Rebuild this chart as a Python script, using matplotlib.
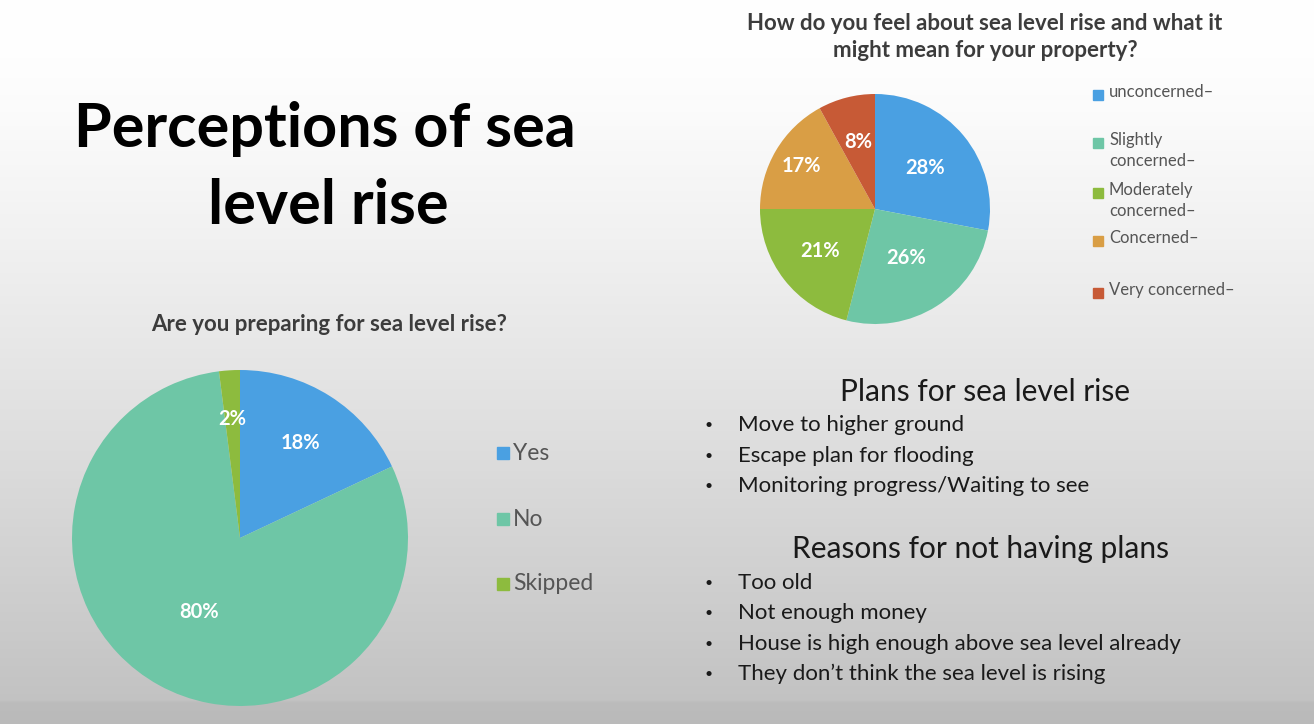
import matplotlib.pyplot as plt
import numpy as np

plt.rcParams['font.family'] = ['Lato', 'DejaVu Sans']

# Data
feel_labels = ['unconcerned–', 'Slightly\nconcerned–', 'Moderately\nconcerned–', 'Concerned–', 'Very concerned–']
feel_values = [28, 26, 21, 17, 8]
feel_colors = ['#4aa0e2', '#6ec6a6', '#8dbb3e', '#d99e45', '#c75a36']

prep_labels = ['Yes', 'No', 'Skipped']
prep_values = [18, 80, 2]
prep_colors = ['#4aa0e2', '#6ec6a6', '#8dbb3e']

plans = ['Move to higher ground', 'Escape plan for flooding', 'Monitoring progress/Waiting to see']
reasons = ['Too old', 'Not enough money', 'House is high enough above sea level already',
           'They don\u2019t think the sea level is rising']

W, H = 1314, 724
fig = plt.figure(figsize=(W / 100, H / 100), dpi=100)


def px(x, y):
    # pixel coords (from top-left) -> figure fraction
    return x / W, 1 - y / H


# gradient background
bg = fig.add_axes([0, 0, 1, 1], zorder=-10)
grad = np.linspace(0, 1, 256)[:, None]
shade = 254 - 62 * np.clip((grad - 0.08) / 0.92, 0, 1) ** 1.2
shade[grad[:, 0] > 0.97] -= 6
bg.imshow(np.dstack([shade, shade, shade]).astype(np.uint8), aspect='auto', extent=[0, 1, 0, 1])
bg.axis('off')


def pie_axes(cx, cy, r):
    x0, y0 = px(cx - r, cy + r)
    return fig.add_axes([x0, y0, 2 * r / W, 2 * r / H])


def place_pcts(wedges, pcts, dists):
    # move the percentage labels along each wedge's mid angle
    for w, t, d in zip(wedges, pcts, dists):
        a = np.deg2rad((w.theta1 + w.theta2) / 2)
        t.set_position((d * np.cos(a), d * np.sin(a)))


lab_style = dict(color='white', fontsize=14.5, fontweight='bold')

# top-right pie
ax1 = pie_axes(875, 209, 115)
w1, _, p1 = ax1.pie(feel_values, colors=feel_colors, startangle=90, counterclock=False,
                    autopct='%d%%', radius=1, textprops=lab_style)
place_pcts(w1, p1, [0.56, 0.5, 0.6, 0.74, 0.6])
ax1.set_xlim(-1, 1)
ax1.set_ylim(-1, 1)

fig.text(*px(985, 37), 'How do you feel about sea level rise and what it\nmight mean for your property?',
         ha='center', va='center', fontsize=16, fontweight='bold', color='#3c3c3c', linespacing=1.4)

# top legend
leg_y = [95, 143, 193, 241, 293]
for lab, col, y in zip(feel_labels, feel_colors, leg_y):
    fig.patches.append(plt.Rectangle(px(1093, y + 5), 10 / W, 10 / H, transform=fig.transFigure,
                                     color=col))
    fig.text(*px(1109, y - 11), lab, ha='left', va='top', fontsize=12, color='#555555',
             linespacing=1.35)

# bottom-left pie
ax2 = pie_axes(240, 538, 168)
w2, _, p2 = ax2.pie(prep_values, colors=prep_colors, startangle=90, counterclock=False,
                    autopct='%d%%', radius=1, textprops=lab_style)
place_pcts(w2, p2, [0.67, 0.5, 0.71])
ax2.set_xlim(-1, 1)
ax2.set_ylim(-1, 1)

fig.text(*px(329, 325), 'Are you preparing for sea level rise?', ha='center', va='center',
         fontsize=16, fontweight='bold', color='#3c3c3c')

for lab, col, y in zip(prep_labels, prep_colors, [453, 519, 584]):
    fig.patches.append(plt.Rectangle(px(497, y + 6), 12 / W, 12 / H, transform=fig.transFigure,
                                     color=col))
    fig.text(*px(513, y), lab, ha='left', va='center', fontsize=16.5, color='#555555')

# slide title
fig.text(*px(325, 129), 'Perceptions of sea', ha='center', va='center', fontsize=44,
         fontweight='bold', color='black')
fig.text(*px(328, 206), 'level rise', ha='center', va='center', fontsize=44,
         fontweight='bold', color='black')

# text blocks
fig.text(*px(985, 392), 'Plans for sea level rise', ha='center', va='center', fontsize=21.5,
         color='#1a1a1a')
for i, s in enumerate(plans):
    y = 425 + i * 30.5
    fig.text(*px(709, y), '\u2022', ha='center', va='center', fontsize=10, color='#1a1a1a')
    fig.text(*px(738, y), s, ha='left', va='center', fontsize=16, color='#1a1a1a')

fig.text(*px(980, 549), 'Reasons for not having plans', ha='center', va='center', fontsize=21.5,
         color='#1a1a1a')
for i, s in enumerate(reasons):
    y = 583 + i * 30.3
    fig.text(*px(709, y), '\u2022', ha='center', va='center', fontsize=10, color='#1a1a1a')
    fig.text(*px(738, y), s, ha='left', va='center', fontsize=16, color='#1a1a1a')

fig.savefig('out.png', dpi=100)
